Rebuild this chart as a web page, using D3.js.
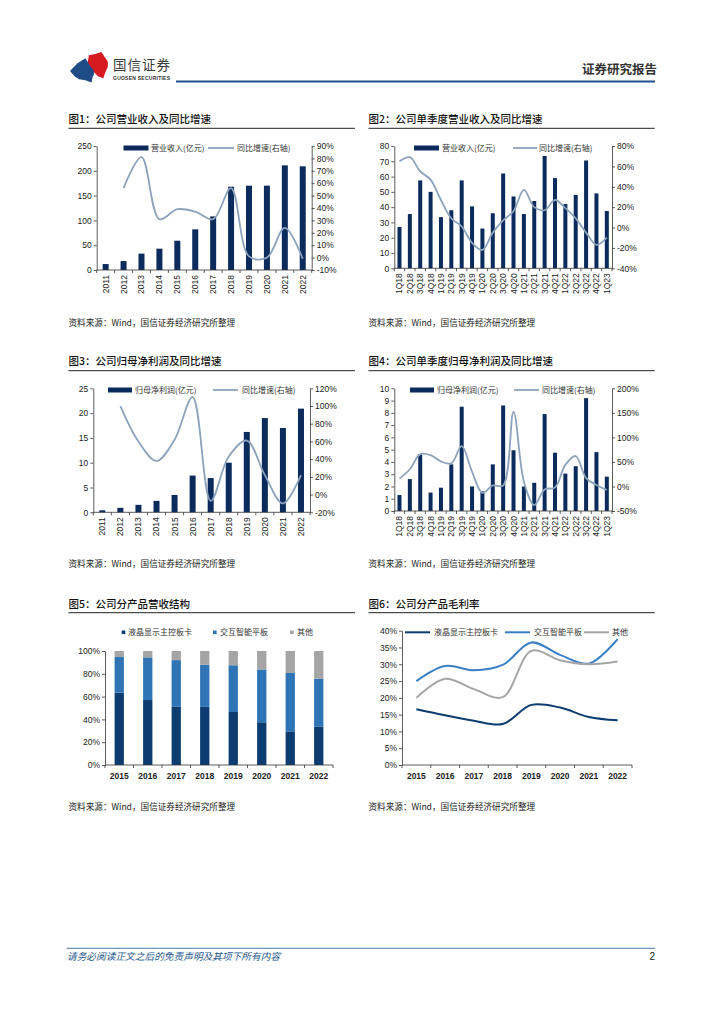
<!DOCTYPE html>
<html><head><meta charset="utf-8">
<script src="https://cdn.jsdelivr.net/npm/d3@7"></script>
<style>
html,body{margin:0;padding:0;background:#fff;}
svg{display:block;}
</style></head>
<body>
<svg id="page" width="724" height="1024"></svg>
<script>
// ---------------- DATA ----------------
const years = ['2011','2012','2013','2014','2015','2016','2017','2018','2019','2020','2021','2022'];
const quarters = ['1Q18','2Q18','3Q18','4Q18','1Q19','2Q19','3Q19','4Q19','1Q20','2Q20','3Q20','4Q20','1Q21','2Q21','3Q21','4Q21','1Q22','2Q22','3Q22','4Q22','1Q23'];

const revenue    = [12, 18, 33, 43, 59, 82, 108, 168, 170, 170, 211, 209];
const revenueYoY = [null, 56, 81, 31, 39, 37, 31, 56, 1, 0, 24, -1];

const qRevenue    = [27, 35.5, 57.5, 50, 33.5, 38, 57.5, 40.5, 26, 36, 62, 47, 35.5, 44, 73.5, 59, 42, 48, 70.5, 49, 37.5];
const qRevenueYoY = [65, 69, 55, 47, 27, 9, 1, -15, -22, -5, 7, 16, 37, 20, 17, 27, 19, 9, -5, -17, -10];

const profit    = [0.4, 0.9, 1.5, 2.3, 3.5, 7.4, 6.9, 10, 16.2, 19, 17, 20.9];
const profitYoY = [null, 100, 60, 38, 62, 110, -7, 43, 61, 22, -10, 22];

const qProfit    = [1.3, 2.6, 4.6, 1.5, 1.9, 3.8, 8.5, 2.0, 1.6, 3.8, 8.6, 4.95, 2.0, 2.3, 7.9, 4.75, 3.05, 3.65, 9.2, 4.8, 2.8];
const qProfitYoY = [16, 35, 66, 64, 51, 47, 82, 30, -13, 2, 2, 152, 10, -38, -6, -2, 44, 62, 17, 3, -7];

const prodYears   = ['2015','2016','2017','2018','2019','2020','2021','2022'];
const productNames = ['液晶显示主控板卡','交互智能平板','其他'];
const shareLCD    = [63.5, 57, 51, 51, 46.5, 37.5, 29.5, 33.5];
const shareIFP    = [31.2, 37.4, 41, 37, 41, 46.3, 51.2, 42.3];
const shareOther  = [5.3, 5.6, 8, 12, 12.5, 16.2, 19.3, 24.2];

const marginLCD   = [16.6, 14.8, 13.2, 12.2, 17.9, 17.1, 14.3, 13.3];
const marginIFP   = [25.0, 29.5, 28.2, 29.8, 36.5, 32.8, 30.2, 37.5];
const marginOther = [20.0, 25.7, 22.6, 20.2, 34.0, 31.2, 30.0, 30.8];

const titles = ['图1：公司营业收入及同比增速','图2：公司单季度营业收入及同比增速','图3：公司归母净利润及同比增速','图4：公司单季度归母净利润及同比增速','图5：公司分产品营收结构','图6：公司分产品毛利率'];
const sourceText = '资料来源：Wind，国信证券经济研究所整理';

// ---------------- STYLE ----------------
const CJK = '"Noto Sans CJK SC","Noto Sans",sans-serif';
const LAT = '"Liberation Sans",Arial,sans-serif';
const NAVY = '#0b2b5c', LINEC = '#8da3bb';
const C_LCD = '#0d3d70', C_IFP = '#2f75b6', C_OTH = '#a5a5a5';

const svg = d3.select('#page');
svg.append('rect').attr('width',724).attr('height',1024).attr('fill','#fff');

// ---------------- HEADER ----------------
const hdr = svg.append('g');
const logo = hdr.append('g').attr('transform','translate(70,52) scale(0.9,1.05) translate(-73,-53)');
logo.append('path').attr('fill','#d71920')
  .attr('d','M92,66 L94,56 L101,55 L108,53 L111,57 L115,62 L115,67 L112,73 L110,78 L104,76 C100,72 97,70 92,66 Z');
logo.append('path').attr('fill','#1f4c86')
  .attr('d','M73,71 L81,64 L90,59 C93,63 95,66 97,68 C101,71 100,75 98,77 L97,82 L90,80 L83,79 L78,76 Z');
hdr.append('text').attr('x',113).attr('y',70).attr('font-family',CJK).attr('font-size',13.5)
  .attr('letter-spacing',1).attr('fill','#3a3a3a').text('国信证券');
hdr.append('text').attr('x',113).attr('y',80).attr('font-family',LAT).attr('font-size',5)
  .attr('font-weight','bold').attr('fill','#333').attr('textLength',57).text('GUOSEN SECURITIES');
hdr.append('line').attr('x1',176).attr('x2',655).attr('y1',81.5).attr('y2',81.5)
  .attr('stroke','#1f4e8c').attr('stroke-width',1.8);
hdr.append('text').attr('x',657).attr('y',73.5).attr('text-anchor','end').attr('font-family',CJK)
  .attr('font-size',12.5).attr('font-weight','bold').attr('fill','#333').text('证券研究报告');

// ---------------- FOOTER ----------------
svg.append('line').attr('x1',66.5).attr('x2',655).attr('y1',948.3).attr('y2',948.3)
  .attr('stroke','#4a7aa8').attr('stroke-width',1);
svg.append('text').attr('x',67).attr('y',960).attr('font-family',CJK).attr('font-size',9.7)
  .attr('font-style','italic').attr('fill','#2a5a8f').text('请务必阅读正文之后的免责声明及其项下所有内容');
svg.append('text').attr('x',655).attr('y',960).attr('text-anchor','end').attr('font-family',LAT)
  .attr('font-size',10).attr('fill','#222').text('2');

// ---------------- TITLES / SOURCES ----------------
const panels = [
  {x1:68.5, x2:355, ty:122.5, uy:128.3, sy:325.5},
  {x1:368.5, x2:654.7, ty:122.5, uy:128.3, sy:325.5},
  {x1:68.5, x2:355, ty:365, uy:370.7, sy:566.5},
  {x1:368.5, x2:654.7, ty:365, uy:370.7, sy:566.5},
  {x1:68.5, x2:355, ty:607.5, uy:612.7, sy:809.5},
  {x1:368.5, x2:654.7, ty:607.5, uy:612.7, sy:809.5}
];
panels.forEach((p,i)=>{
  svg.append('text').attr('x',p.x1).attr('y',p.ty).attr('font-family',CJK).attr('font-size',10.5)
    .attr('font-weight','500').attr('fill','#111').text(titles[i]);
  svg.append('line').attr('x1',p.x1).attr('x2',p.x2).attr('y1',p.uy).attr('y2',p.uy)
    .attr('stroke','#222').attr('stroke-width',1);
  svg.append('text').attr('x',p.x1).attr('y',p.sy).attr('font-family',CJK).attr('font-size',8.6)
    .attr('fill','#222').text(sourceText);
});

// ---------------- HELPERS ----------------
function styleAxis(g){
  g.selectAll('path,line').attr('stroke','#333').attr('stroke-width',0.8);
  g.selectAll('text').attr('font-family',LAT).attr('font-size',8.5).attr('fill','#222');
  g.attr('font-family',null).attr('font-size',null);
}
function bottomAxis(g, x, y, rotate, bold){
  const r = x.range();
  g.append('line').attr('x1',r[0]).attr('x2',r[1]).attr('y1',y).attr('y2',y)
    .attr('stroke','#333').attr('stroke-width',0.8);
  const doms = x.domain();
  const bounds = doms.map(d=>x(d)).concat([r[1]]);
  g.selectAll('line.tk').data(bounds).join('line').attr('class','tk')
    .attr('x1',d=>d).attr('x2',d=>d).attr('y1',y).attr('y2',y+3)
    .attr('stroke','#333').attr('stroke-width',0.8);
  const t = g.selectAll('text.xl').data(doms).join('text').attr('class','xl')
    .attr('font-family',LAT).attr('font-size',8.5).attr('fill','#222').text(d=>d);
  if(rotate){
    t.attr('transform',d=>`translate(${x(d)+x.bandwidth()/2},${y+5}) rotate(-90)`)
      .attr('text-anchor','end').attr('dy','0.35em');
  } else {
    t.attr('x',d=>x(d)+x.bandwidth()/2).attr('y',y+14).attr('text-anchor','middle')
      .attr('font-weight', bold?'bold':'normal');
  }
}

function combo(cfg){
  const g = svg.append('g');
  const x = d3.scaleBand().domain(cfg.cats).range([cfg.left,cfg.right]);
  const yl = d3.scaleLinear().domain(cfg.yL).range([cfg.bottom,cfg.top]);
  const yr = d3.scaleLinear().domain(cfg.yR).range([cfg.bottom,cfg.top]);
  g.selectAll('rect.bar').data(cfg.bars).join('rect').attr('class','bar')
    .attr('x',(d,i)=>x(cfg.cats[i])+x.bandwidth()/2-cfg.barW/2)
    .attr('y',d=>yl(d)).attr('width',cfg.barW).attr('height',d=>cfg.bottom-yl(d))
    .attr('fill',NAVY);
  const pts = cfg.line.map((v,i)=>({c:cfg.cats[i],v})).filter(d=>d.v!=null);
  const ln = d3.line().x(d=>x(d.c)+x.bandwidth()/2).y(d=>yr(d.v)).curve(d3.curveCatmullRom.alpha(0.5));
  g.append('path').attr('d',ln(pts)).attr('fill','none').attr('stroke',LINEC).attr('stroke-width',1.8);
  const al = g.append('g').attr('transform',`translate(${cfg.left},0)`)
    .call(d3.axisLeft(yl).tickValues(d3.range(cfg.yL[0],cfg.yL[1]+1e-9,cfg.yLstep)).tickSize(3).tickSizeOuter(0).tickPadding(2));
  styleAxis(al);
  const ar = g.append('g').attr('transform',`translate(${cfg.right},0)`)
    .call(d3.axisRight(yr).tickValues(d3.range(cfg.yR[0],cfg.yR[1]+1e-9,cfg.yRstep)).tickSize(3).tickSizeOuter(0).tickPadding(2).tickFormat(d=>d+'%'));
  styleAxis(ar);
  bottomAxis(g.append('g'), x, cfg.bottom, true, false);
  const L = cfg.legend;
  g.append('rect').attr('x',L.rx).attr('y',L.y-2.5).attr('width',L.rw).attr('height',5).attr('fill',NAVY);
  g.append('text').attr('x',L.tx1).attr('y',L.y).attr('dy','0.35em').attr('font-family',CJK)
    .attr('font-size',8).attr('fill','#333').text(L.t1);
  g.append('line').attr('x1',L.lx1).attr('x2',L.lx2).attr('y1',L.y).attr('y2',L.y)
    .attr('stroke',LINEC).attr('stroke-width',1.8);
  g.append('text').attr('x',L.tx2).attr('y',L.y).attr('dy','0.35em').attr('font-family',CJK)
    .attr('font-size',8).attr('fill','#333').text(L.t2);
}

// ---------------- CHART 1 ----------------
combo({cats:years, bars:revenue, line:revenueYoY, left:96.7, right:311.7, top:146, bottom:270,
  yL:[0,250], yLstep:50, yR:[-10,90], yRstep:10, barW:6,
  legend:{y:148, rx:123.5, rw:25, tx1:151, t1:'营业收入(亿元)', lx1:208, lx2:234, tx2:237, t2:'同比增速(右轴)'}});
// ---------------- CHART 2 ----------------
combo({cats:quarters, bars:qRevenue, line:qRevenueYoY, left:394.3, right:612, top:146, bottom:268.3,
  yL:[0,80], yLstep:10, yR:[-40,80], yRstep:20, barW:4,
  legend:{y:148, rx:414, rw:25, tx1:442, t1:'营业收入(亿元)', lx1:513, lx2:537, tx2:539, t2:'同比增速(右轴)'}});
// ---------------- CHART 3 ----------------
combo({cats:years, bars:profit, line:profitYoY, left:93.3, right:310, top:388.3, bottom:512.3,
  yL:[0,25], yLstep:5, yR:[-20,120], yRstep:20, barW:6,
  legend:{y:390, rx:108, rw:24, tx1:135, t1:'归母净利润(亿元)', lx1:213, lx2:238, tx2:242, t2:'同比增速(右轴)'}});
// ---------------- CHART 4 ----------------
combo({cats:quarters, bars:qProfit, line:qProfitYoY, left:394.3, right:612, top:388.3, bottom:511,
  yL:[0,10], yLstep:1, yR:[-50,200], yRstep:50, barW:4,
  legend:{y:390, rx:410, rw:24, tx1:437, t1:'归母净利润(亿元)', lx1:514, lx2:539, tx2:542, t2:'同比增速(右轴)'}});

// ---------------- CHART 5 (stacked) ----------------
(function(){
  const g = svg.append('g');
  const left=105, right=333, top=651, bottom=765, barW=9.3;
  const x = d3.scaleBand().domain(prodYears).range([left,right]);
  const y = d3.scaleLinear().domain([0,100]).range([bottom,top]);
  const rows = prodYears.map((yr,i)=>({yr, lcd:shareLCD[i], ifp:shareIFP[i], oth:shareOther[i]}));
  const stack = d3.stack().keys(['lcd','ifp','oth'])(rows);
  const cols = [C_LCD, C_IFP, C_OTH];
  stack.forEach((s,k)=>{
    g.selectAll(null).data(s).join('rect')
      .attr('x',d=>x(d.data.yr)+x.bandwidth()/2-barW/2)
      .attr('y',d=>y(Math.min(d[1],100))).attr('width',barW)
      .attr('height',d=>y(d[0])-y(Math.min(d[1],100))).attr('fill',cols[k]);
  });
  const al = g.append('g').attr('transform',`translate(${left},0)`)
    .call(d3.axisLeft(y).tickValues(d3.range(0,101,20)).tickSize(3).tickSizeOuter(0).tickPadding(2).tickFormat(d=>d+'%'));
  styleAxis(al);
  bottomAxis(g.append('g'), x, bottom, false, true);
  const leg = [{sx:121.7, tx:128},{sx:213, tx:220},{sx:290, tx:297}];
  leg.forEach((l,k)=>{
    g.append('rect').attr('x',l.sx).attr('y',630.5).attr('width',3.6).attr('height',3.6).attr('fill',cols[k]);
    g.append('text').attr('x',l.tx).attr('y',632.3).attr('dy','0.35em').attr('font-family',CJK)
      .attr('font-size',8).attr('fill','#333').text(productNames[k]);
  });
})();

// ---------------- CHART 6 (lines) ----------------
(function(){
  const g = svg.append('g');
  const left=402, right=632, top=630.7, bottom=765;
  const x = d3.scaleBand().domain(prodYears).range([left,right]);
  const y = d3.scaleLinear().domain([0,40]).range([bottom,top]);
  const al = g.append('g').attr('transform',`translate(${left},0)`)
    .call(d3.axisLeft(y).tickValues(d3.range(0,41,5)).tickSize(3).tickSizeOuter(0).tickPadding(2).tickFormat(d=>d+'%'));
  styleAxis(al);
  bottomAxis(g.append('g'), x, bottom, false, true);
  const series = [marginLCD, marginIFP, marginOther];
  const cols = [C_LCD, '#3a7fc4', C_OTH];
  const ln = d3.line().x((d,i)=>x(prodYears[i])+x.bandwidth()/2).y(d=>y(d)).curve(d3.curveCatmullRom.alpha(0.5));
  series.forEach((s,k)=>{
    g.append('path').attr('d',ln(s)).attr('fill','none').attr('stroke',cols[k]).attr('stroke-width',2);
  });
  const leg = [{lx:405, tx:434},{lx:505, tx:534},{lx:584, tx:612}];
  leg.forEach((l,k)=>{
    g.append('line').attr('x1',l.lx).attr('x2',l.lx+25).attr('y1',632.3).attr('y2',632.3)
      .attr('stroke',cols[k]).attr('stroke-width',2);
    g.append('text').attr('x',l.tx).attr('y',632.3).attr('dy','0.35em').attr('font-family',CJK)
      .attr('font-size',8).attr('fill','#333').text(productNames[k]);
  });
})();
</script>
</body></html>
